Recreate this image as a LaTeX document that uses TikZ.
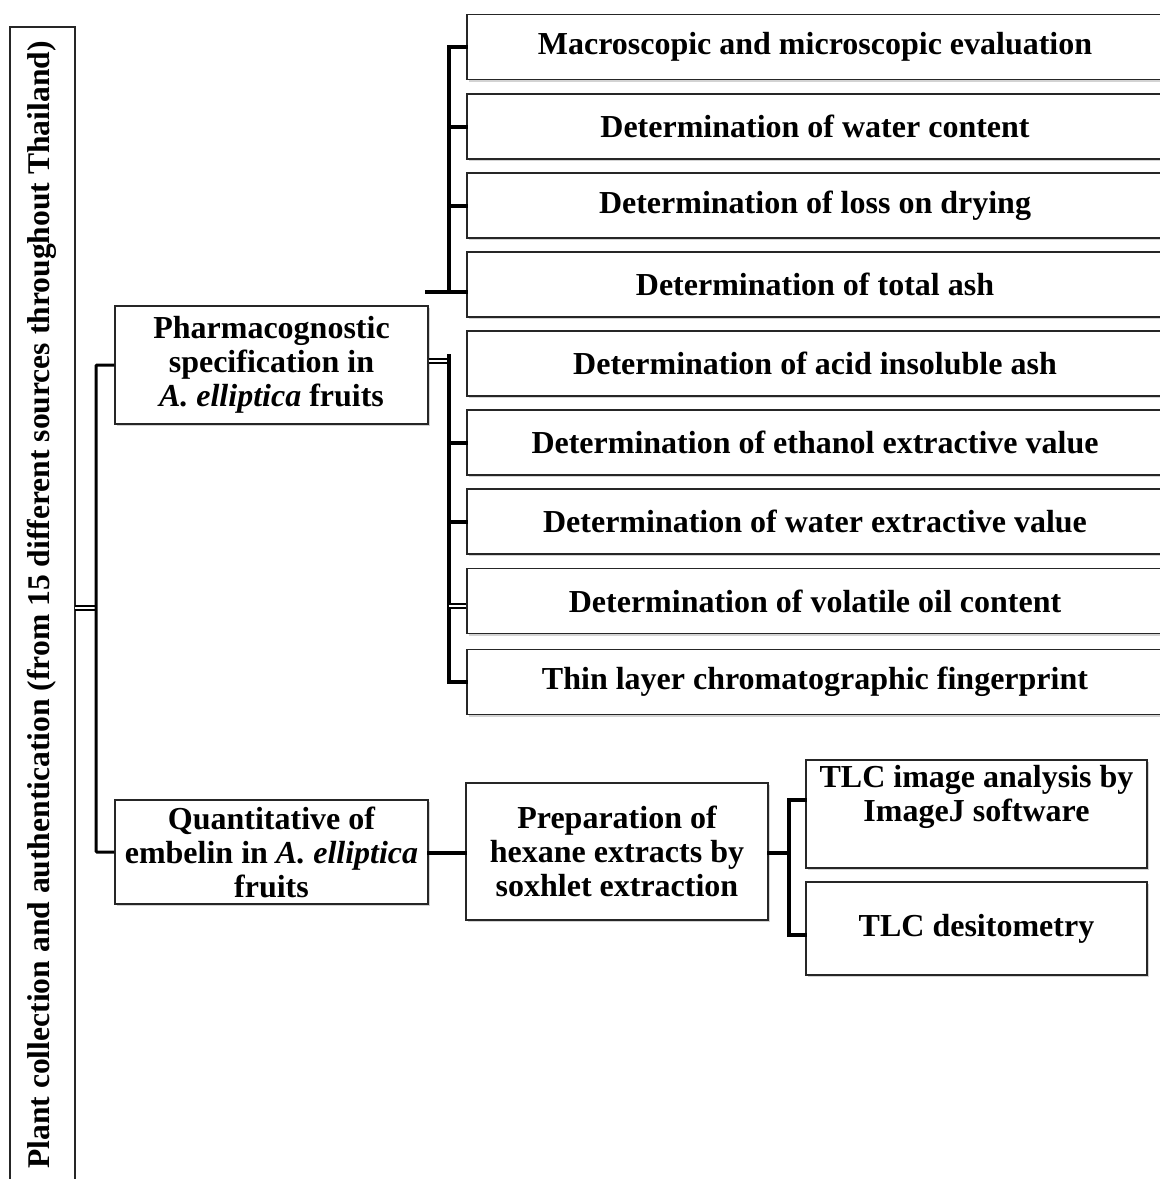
\documentclass[tikz,border=0pt]{standalone}
\usepackage{fontspec}
\setmainfont{Liberation Serif}
\usetikzlibrary{shadows,calc}
\begin{document}
\begin{tikzpicture}[x=1pt,y=-1pt,
  txt/.style={font=\fontsize{32}{34}\selectfont\bfseries, align=center, inner sep=0pt},
  bx/.style={txt, draw=black!85, line width=1.4pt, fill=white,
    drop shadow={shadow xshift=2pt, shadow yshift=-2pt, opacity=0.35, fill=gray}},
  brk/.style={line width=4pt, line cap=rect},
  trunk/.style={line width=3pt},
  dbl/.style={double=white, double distance=2.5pt, line width=2pt},
]
\useasboundingbox (0,0) rectangle (1160,1179);
% left vertical box
\draw[line width=1.4pt, draw=black!85] (10,1200) -- (10,27) -- (75,27) -- (75,1200);
\node[txt, rotate=90, font=\fontsize{31.6}{34}\selectfont\bfseries] (L) at (42,605)
  {Plant collection and authentication (from 15 different sources throughout Thailand)};
\coordinate (Lr) at (75,608);

% second level
\node[bx, minimum width=313pt, minimum height=118pt] (P) at (271.5,365)
  {Pharmacognostic\\specification in\\\textit{A. elliptica} fruits};
\node[bx, minimum width=313pt, minimum height=104pt] (Q) at (271.5,852)
  {Quantitative of\\embelin in \textit{A. elliptica}\\fruits};

% list boxes
\foreach \n/\y/\t in {
  m1/47/{Macroscopic and microscopic evaluation},
  m2/126.5/{Determination of water content},
  m3/205.5/{Determination of loss on drying},
  m4/284.5/{Determination of total ash},
  m5/363.5/{Determination of acid insoluble ash},
  m6/442.5/{Determination of ethanol extractive value},
  m7/521.5/{Determination of water extractive value},
  m8/601/{Determination of volatile oil content},
  m9/682/{Thin layer chromatographic fingerprint}}
  \node[bx, minimum width=696pt, minimum height=65pt] (\n) at (815,\y) {\t};

% bottom branch
\node[bx, minimum width=302pt, minimum height=137pt] (R) at (617,851.5)
  {Preparation of\\hexane extracts by\\soxhlet extraction};
\node[bx, minimum width=341pt, minimum height=108pt] (S) at (976.5,814) {};
\node[txt] (St) at (976.5,797) {TLC image analysis by\\ImageJ software};
\node[bx, minimum width=341pt, minimum height=93pt] (T) at (976.5,928.5)
  {TLC desitometry};

% main trunk
\coordinate (tk) at (96,608);
\draw[dbl] (Lr) -- (tk);
\draw[trunk, rounded corners=1pt] (P.west) -| (tk) |- (Q.west);

% top bracket
\coordinate (tb) at (449,292);
\draw[brk] (m1.west) -| (tb);
\draw[brk] (m2.west) -- (m2.west -| tb);
\draw[brk] (m3.west) -- (m3.west -| tb);
\draw[brk] (tb) -- (tb -| m4.west);
\draw[brk] (tb) -- ($(tb)+(-22,0)$);

% lower bracket
\coordinate (lb) at (449,361);
\draw[dbl] (P.east |- lb) -- (lb);
\draw[brk] ($(lb)+(0,-5)$) |- (m9.west);
\draw[brk] (m6.west) -- (m6.west -| lb);
\draw[brk] (m7.west) -- (m7.west -| lb);
\draw[dbl] ($(m8.west)+(0,5)$) -- ($(m8.west -| lb)+(0,5)$);

% bottom bracket
\coordinate (bb) at (789,853);
\draw[brk] (Q.east |- bb) -- (R.west |- bb);
\draw[brk] (R.east |- bb) -- (bb);
\draw[brk] ($(S.west)+(0,-14)$) -| (bb) |- ($(T.west)+(0,6)$);
\end{tikzpicture}
\end{document}
